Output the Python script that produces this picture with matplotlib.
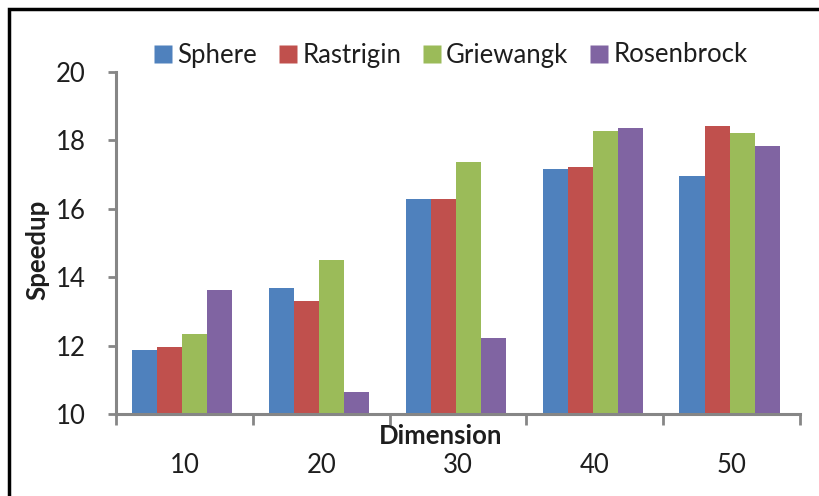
import numpy as np
import matplotlib
matplotlib.use("Agg")
import matplotlib.pyplot as plt
from matplotlib.lines import Line2D
from matplotlib.patches import Rectangle

plt.rcParams['font.family'] = ['Lato', 'DejaVu Sans']

dimensions = ["10", "20", "30", "40", "50"]
series = ["Sphere", "Rastrigin", "Griewangk", "Rosenbrock"]
sphere = [11.86, 13.67, 16.29, 17.17, 16.96]
rastrigin = [11.96, 13.31, 16.29, 17.23, 18.43]
griewangk = [12.33, 14.50, 17.37, 18.27, 18.21]
rosenbrock = [13.63, 10.65, 12.21, 18.36, 17.85]
colors = ["#4F81BD", "#C0504D", "#9BBB59", "#8064A2"]

values = [sphere, rastrigin, griewangk, rosenbrock]
fs = 18.5

fig = plt.figure(figsize=(8.19, 4.96), dpi=100)
ax = fig.add_axes([116/819, 1 - 414/496, 684/819, 342/496])

x = np.arange(len(dimensions))
w = 0.183
for i, (vals, c) in enumerate(zip(values, colors)):
    ax.bar(x + (i - 1.5) * w - 0.015, np.array(vals) - 10, width=w, bottom=10,
           color=c, edgecolor="none", zorder=2)

ax.set_xlim(-0.5, len(dimensions) - 0.5)
ax.set_ylim(10, 20)
ax.set_yticks(np.arange(10, 21, 2))

axis_grey = "#868686"
for side in ["top", "right"]:
    ax.spines[side].set_visible(False)
for side in ["left", "bottom"]:
    ax.spines[side].set_color(axis_grey)
    ax.spines[side].set_linewidth(2.2)

text_col = "#1E1E1E"
ax.tick_params(axis="y", direction="out", length=6, width=2, color=axis_grey,
               labelsize=fs, labelcolor=text_col, pad=16)
ax.set_xticks(x)
ax.set_xticklabels(dimensions)
ax.tick_params(axis="x", which="major", length=0, labelsize=fs,
               labelcolor=text_col, pad=28)
ax.set_xticks(np.arange(-0.5, len(dimensions), 1), minor=True)
ax.tick_params(axis="x", which="minor", direction="out", length=8, width=2,
               color=axis_grey)

ax.set_xlabel("Dimension", fontsize=fs, fontweight="bold", color=text_col)
ax.xaxis.set_label_coords(0.475, -0.064)
ax.xaxis.label.set_va("center")
ax.set_ylabel("Speedup", fontsize=fs, fontweight="bold", color=text_col)
ax.yaxis.set_label_coords(-0.115, 0.48)
ax.yaxis.label.set_va("center")

handles = [Line2D([], [], marker="s", linestyle="none", markersize=12.5,
                  markerfacecolor=c, markeredgecolor="none") for c in colors]
fig.legend(handles, series, loc="center", bbox_to_anchor=(0.55, 1 - 55/496),
           ncol=4, frameon=False, fontsize=fs, handlelength=0.8,
           handletextpad=0.15, columnspacing=0.8, labelcolor=text_col)

# outer frame around the chart area
fig.patches.append(Rectangle((9/819, -0.1), 1.2, 1 - 9/496 + 0.1,
                             transform=fig.transFigure, fill=False,
                             edgecolor="black", linewidth=2.5))

fig.savefig("out.png", dpi=100)
